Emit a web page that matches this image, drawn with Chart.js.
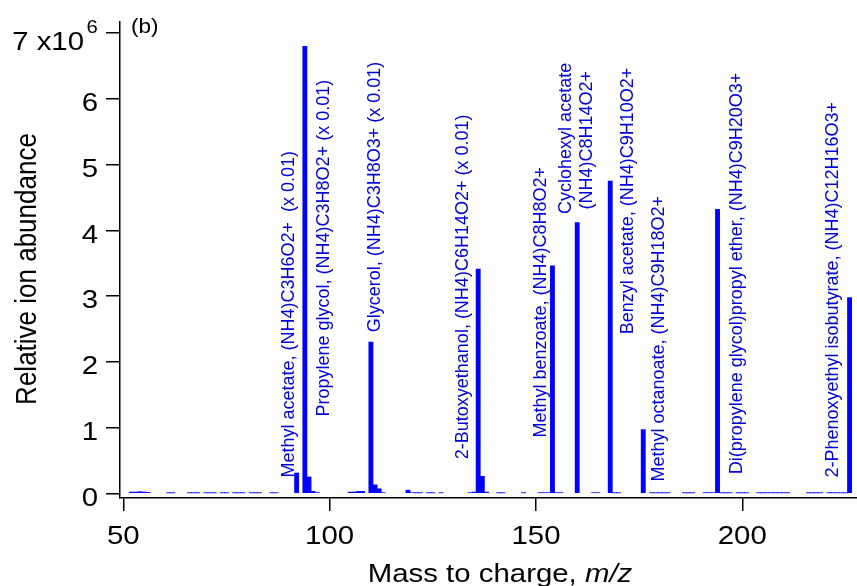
<!DOCTYPE html>
<html lang="en">
<head>
    <meta charset="UTF-8">
    <title>Relative ion abundance (b)</title>
    <script src="https://cdn.jsdelivr.net/npm/chart.js"></script>
    <style>
        body { margin: 0; background: #fff; }
        .container { width: 857px; height: 586px; }
    </style>
</head>
<body>

    <div class="container">
        <canvas id="massChart"></canvas>
    </div>

    <script>
        // m/z and abundance (abundance in units of 1e6)
        const mz = [
            52, 53, 54, 55, 56, 61, 62,
            66, 67, 68, 70, 71, 72, 74, 75, 77, 78, 79, 81, 82, 83, 86, 87,
            92, 94, 95, 96, 97,
            105, 106, 107, 108, 110, 111, 112, 113,
            119, 120, 121, 122, 124, 125, 127,
            134, 135, 136, 137, 138,
            141, 142, 147, 151, 152, 153, 154, 155, 156,
            160, 164, 165, 168, 169, 170, 176,
            178, 179, 180, 181, 182, 186, 187, 188,
            191, 192, 193, 194, 195, 196, 197, 199, 200, 201,
            204, 205, 206, 207, 208, 209, 210, 211,
            216, 217, 218, 219, 221, 222, 223, 224, 225, 226
        ];
        const abundance = [
            0.02, 0.02, 0.025, 0.02, 0.015, 0.008, 0.008,
            0.008, 0.008, 0.008, 0.008, 0.008, 0.008, 0.008, 0.008, 0.008, 0.008, 0.008, 0.008, 0.008, 0.008, 0.008, 0.008,
            0.31, 6.80, 0.25, 0.03, 0.01,
            0.02, 0.02, 0.03, 0.03, 2.30, 0.13, 0.07, 0.01,
            0.05, 0.01, 0.008, 0.008, 0.008, 0.008, 0.008,
            0.01, 0.02, 3.41, 0.26, 0.02,
            0.008, 0.008, 0.008, 0.01, 0.01, 0.01, 3.46, 0.01, 0.01,
            4.12, 0.01, 0.01, 4.75, 0.008, 0.008, 0.97,
            0.008, 0.008, 0.008, 0.008, 0.008, 0.008, 0.008, 0.008,
            0.01, 0.01, 0.01, 4.32, 0.008, 0.008, 0.008, 0.008, 0.008, 0.008,
            0.008, 0.008, 0.008, 0.008, 0.008, 0.008, 0.008, 0.008,
            0.008, 0.008, 0.008, 0.008, 0.008, 0.008, 0.008, 0.008, 0.008, 2.98
        ];

        const xTicks = [50, 100, 150, 200];
        const yTicks = [0, 1, 2, 3, 4, 5, 6, 7];

        // peak annotations: text, anchor m/z, anchor abundance (1e6), anchored at start or center
        const peakLabels = [
            ['Methyl acetate, (NH4)C3H6O2+  (x 0.01)', 90.15, 0.24, 'left'],
            ['Propylene glycol, (NH4)C3H8O2+ (x 0.01)', 98.6, 1.17, 'left'],
            ['Glycerol, (NH4)C3H8O3+ (x 0.01)', 111.0, 2.45, 'left'],
            ['2-Butoxyethanol, (NH4)C6H14O2+ (x 0.01)', 132.3, 0.52, 'left'],
            ['Methyl benzoate, (NH4)C8H8O2+', 151.2, 0.85, 'left'],
            ['Cyclohexyl acetate', 157.3, 5.40, 'center'],
            ['(NH4)C8H14O2+', 162.4, 5.37, 'center'],
            ['Benzyl acetate, (NH4)C9H10O2+', 172.3, 2.42, 'left'],
            ['Methyl octanoate, (NH4)C9H18O2+', 179.8, 0.18, 'left'],
            ['Di(propylene glycol)propyl ether, (NH4)C9H20O3+', 198.7, 0.29, 'left'],
            ['2-Phenoxyethyl isobutyrate, (NH4)C12H16O3+', 222.0, 0.24, 'left']
        ];

        const FONT = '"Liberation Sans", Arial, sans-serif';
        const STRETCH = 1.13; // the original axis text is a bit wider than Arial

        function wideText(ctx, text, x, y, rotate, stretch = STRETCH) {
            ctx.save();
            ctx.translate(x, y);
            ctx.scale(stretch, 1);
            if (rotate) ctx.rotate(-Math.PI / 2);
            ctx.fillText(text, 0, 0);
            ctx.restore();
        }

        // draws tick labels, peak labels, axis titles and panel tag
        const textPlugin = {
            id: 'extraText',
            afterDraw(chart) {
                const ctx = chart.ctx;
                const xs = chart.scales.x, ys = chart.scales.y;
                const area = chart.chartArea;
                ctx.save();

                // peak labels
                ctx.fillStyle = '#0000dd';
                ctx.font = '18px ' + FONT;
                ctx.textBaseline = 'middle';
                peakLabels.forEach(([text, x, y, align]) => {
                    ctx.textAlign = align;
                    wideText(ctx, text, xs.getPixelForValue(x), ys.getPixelForValue(y * 1e6), true, 1);
                });

                ctx.fillStyle = '#000';
                ctx.textBaseline = 'alphabetic';
                ctx.font = '26px ' + FONT;

                // x tick labels
                ctx.textAlign = 'center';
                xTicks.forEach(v => wideText(ctx, String(v), xs.getPixelForValue(v), 544));

                // y tick labels
                ctx.textAlign = 'right';
                yTicks.forEach(v => {
                    const py = ys.getPixelForValue(v * 1e6);
                    if (v === 7) {
                        wideText(ctx, '7 x10', 84, py + 17);
                    } else {
                        wideText(ctx, String(v), 98, py + 12.3);
                    }
                });
                ctx.font = '18px ' + FONT;
                ctx.textAlign = 'left';
                wideText(ctx, '6', 86.5, ys.getPixelForValue(7e6) - 0.5);

                // panel tag
                ctx.font = '20px ' + FONT;
                wideText(ctx, '(b)', 131, ys.getPixelForValue(7e6));

                // y title
                ctx.font = '26px ' + FONT;
                ctx.textAlign = 'center';
                ctx.textBaseline = 'middle';
                wideText(ctx, 'Relative ion abundance', 28, (area.top + area.bottom) / 2 + 9, true);

                // x title with italic m/z
                const part1 = 'Mass to charge, ';
                const part2 = 'm/z';
                ctx.font = '26px ' + FONT;
                const w1 = ctx.measureText(part1).width * STRETCH;
                ctx.font = 'italic 26px ' + FONT;
                const w2 = ctx.measureText(part2).width * STRETCH;
                const startX = 500 - (w1 + w2) / 2;
                ctx.textAlign = 'left';
                ctx.textBaseline = 'alphabetic';
                ctx.font = '26px ' + FONT;
                wideText(ctx, part1, startX, 582);
                ctx.font = 'italic 26px ' + FONT;
                wideText(ctx, part2, startX + w1, 582);

                ctx.restore();
            }
        };

        const ctx = document.getElementById('massChart').getContext('2d');

        const massChart = new Chart(ctx, {
            type: 'bar',
            data: {
                datasets: [{
                    label: 'Relative ion abundance',
                    data: mz.map((m, i) => ({ x: m, y: abundance[i] * 1e6 })),
                    backgroundColor: '#0000ff',
                    borderWidth: 0,
                    barThickness: 4.2
                }]
            },
            options: {
                responsive: true,
                maintainAspectRatio: false,
                animation: false,
                layout: { padding: { top: 22, right: 0, left: 0, bottom: 0 } },
                plugins: {
                    legend: { display: false },
                    tooltip: { enabled: false }
                },
                scales: {
                    x: {
                        type: 'linear',
                        offset: false,
                        min: 49.2,
                        max: 227.8,
                        afterBuildTicks: scale => { scale.ticks = xTicks.map(v => ({ value: v })); },
                        afterFit: scale => { scale.height = 88; },
                        grid: { offset: false, drawOnChartArea: false, drawTicks: true, tickLength: 13, color: '#000', lineWidth: 1.5 },
                        border: { display: true, color: '#000', width: 1.5 },
                        ticks: { callback: () => '', maxRotation: 0, autoSkip: false }
                    },
                    y: {
                        type: 'linear',
                        min: -0.07e6,
                        max: 7.17e6,
                        afterBuildTicks: scale => { scale.ticks = yTicks.map(v => ({ value: v * 1e6 })); },
                        afterFit: scale => { scale.width = 120; },
                        grid: { drawOnChartArea: false, drawTicks: true, tickLength: 14, color: '#000', lineWidth: 1.5 },
                        border: { display: true, color: '#000', width: 1.5 },
                        ticks: { callback: () => '', autoSkip: false }
                    }
                }
            },
            plugins: [textPlugin]
        });
    </script>

</body>
</html>
